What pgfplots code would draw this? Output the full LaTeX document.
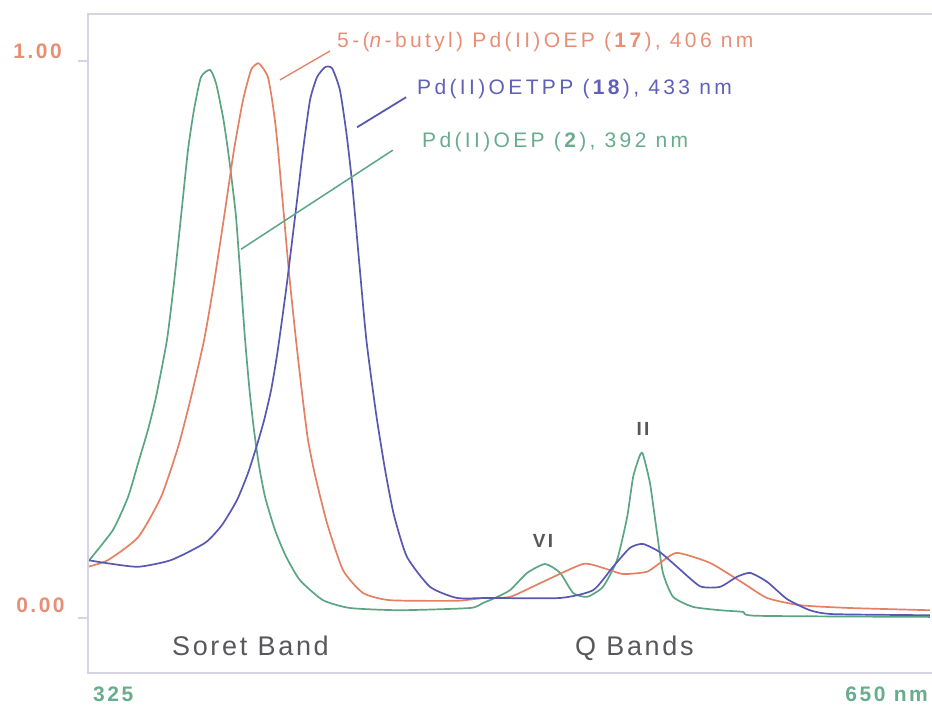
\documentclass[border=0pt]{standalone}
\usepackage{fontspec}
\usepackage{pgfplots}
\pgfplotsset{compat=1.18}
\setmainfont{Liberation Sans}
\newfontfamily\lab[LetterSpace=16]{Liberation Sans}
\newfontfamily\band[LetterSpace=10]{Liberation Sans}
\newfontfamily\num[LetterSpace=12]{Liberation Sans}

\definecolor{cred}{RGB}{228,128,100}
\definecolor{cblue}{RGB}{88,88,178}
\definecolor{cgreen}{RGB}{92,165,132}
\definecolor{tred}{RGB}{232,142,118}
\definecolor{tblue}{RGB}{96,96,184}
\definecolor{tgreen}{RGB}{104,172,142}
\definecolor{tgray}{RGB}{88,88,92}
\definecolor{frame}{RGB}{212,212,226}

\begin{document}
\begin{tikzpicture}
\begin{axis}[
    name=ax,
    at={(0,0)}, anchor=south west,
    scale only axis,
    width=844pt, height=659pt,
    xmin=325, xmax=650,
    ymin=-0.0987, ymax=1.0844,
    axis lines=none,
    clip=false,
    every axis plot/.append style={line width=1.7pt, line join=round}
]
% Pd(II)OEP (2)
\addplot[cgreen, smooth, tension=0.35] coordinates {
(325.0,0.101) (334.6,0.158) (340.4,0.217) (344.3,0.278) (348.1,0.338) (351.2,0.397)
(355.4,0.499) (358.1,0.601) (360.8,0.720) (363.5,0.840) (365.8,0.912) (368.5,0.971)
(372.0,0.984) (374.3,0.960) (377.0,0.899) (378.9,0.840) (380.5,0.781) (382.0,0.720)
(383.9,0.601) (385.5,0.499) (387.2,0.409) (388.9,0.338) (390.8,0.275) (393.2,0.217)
(397.0,0.158) (401.2,0.111) (406.6,0.068) (415.5,0.032) (425.9,0.018) (445.1,0.014)
(472.1,0.018) (477.1,0.027) (481.7,0.036) (487.5,0.050) (494.1,0.081) (501.0,0.097)
(506.8,0.081) (511.8,0.045) (517.2,0.038) (523.3,0.056) (528.7,0.104) (532.6,0.181)
(534.9,0.253) (537.6,0.293) (538.7,0.294) (541.4,0.242) (544.1,0.153) (546.4,0.081)
(550.3,0.038) (558.0,0.020) (568.4,0.014) (577.2,0.011) (582.6,0.004) (649.2,0.002)};
% 5-(n-butyl) Pd(II)OEP (17)
\addplot[cred, smooth, tension=0.35] coordinates {
(325.0,0.092) (332.7,0.104) (344.3,0.145) (353.1,0.217) (359.7,0.307) (364.7,0.397)
(369.7,0.499) (373.5,0.601) (377.4,0.720) (381.2,0.840) (384.7,0.930) (387.8,0.984)
(390.5,0.996) (392.4,0.987) (394.3,0.971) (395.9,0.930) (397.2,0.885) (398.2,0.840)
(399.3,0.781) (400.5,0.720) (401.6,0.661) (402.8,0.601) (405.1,0.499) (407.6,0.397)
(409.7,0.320) (412.4,0.257) (417.0,0.171) (423.2,0.086) (430.9,0.045) (441.3,0.032)
(467.1,0.031) (477.1,0.036) (487.5,0.038) (500.2,0.065) (515.6,0.097) (523.3,0.090)
(531.0,0.079) (540.2,0.083) (545.3,0.099) (551.8,0.117) (564.5,0.099) (577.2,0.063)
(586.5,0.036) (599.2,0.023) (618.4,0.018) (649.2,0.014)};
% Pd(II)OETPP (18)
\addplot[cblue, smooth, tension=0.35] coordinates {
(325.0,0.104) (331.5,0.099) (344.3,0.092) (357.0,0.104) (370.1,0.135) (376.6,0.167)
(382.4,0.212) (386.6,0.260) (390.1,0.311) (392.8,0.355) (395.5,0.409) (397.8,0.472)
(399.7,0.535) (401.6,0.601) (405.5,0.750) (407.8,0.840) (410.5,0.930) (413.2,0.971)
(416.3,0.989) (419.0,0.987) (422.0,0.948) (424.5,0.871) (426.7,0.781) (429.6,0.630)
(432.2,0.499) (435.9,0.368) (439.4,0.266) (442.8,0.185) (447.8,0.110) (456.7,0.056)
(467.1,0.036) (479.8,0.036) (506.8,0.036) (519.5,0.050) (527.2,0.092) (533.7,0.126)
(538.7,0.133) (545.3,0.118) (551.8,0.092) (560.7,0.057) (568.4,0.056) (574.9,0.074)
(580.0,0.081) (586.5,0.065) (594.2,0.034) (603.0,0.014) (611.9,0.007) (649.2,0.005)};

% frame and ticks
\draw[frame, line width=1.3pt] (rel axis cs:1,1) -- (rel axis cs:0,1) -- (rel axis cs:0,0) -- (rel axis cs:1,0);
\draw[frame, line width=1.3pt] (axis cs:321.15,1) -- (axis cs:325,1);
\draw[frame, line width=1.3pt] (axis cs:321.15,0) -- (axis cs:325,0);

% tick labels
\node[anchor=base east, inner sep=0pt, text=tred, font=\num\bfseries\fontsize{21}{25}\selectfont] at (axis cs:315.0,1.004) {1.00};
\node[anchor=base east, inner sep=0pt, text=tred, font=\num\bfseries\fontsize{21}{25}\selectfont] at (axis cs:316.1,0.0108) {0.00};
\node[anchor=base west, inner sep=0pt, text=tgreen, font=\num\bfseries\fontsize{21}{25}\selectfont] at (axis cs:326.9,-0.149) {325};
\node[anchor=base east, inner sep=0pt, text=tgreen, font=\num\bfseries\fontsize{21}{25}\selectfont] at (axis cs:648.5,-0.149) {650 nm};

% band labels
\node[anchor=base west, inner sep=0pt, text=tgray, font=\band\fontsize{27}{32}\selectfont] at (axis cs:357.3,-0.0664) {Soret Band};
\node[anchor=base west, inner sep=0pt, text=tgray, font=\band\fontsize{27}{32}\selectfont] at (axis cs:512.5,-0.0664) {Q Bands};
\node[anchor=base, inner sep=0pt, text=tgray, font=\num\bfseries\fontsize{19}{23}\selectfont] at (axis cs:538.7,0.3285) {II};
\node[anchor=base, inner sep=0pt, text=tgray, font=\num\bfseries\fontsize{19}{23}\selectfont] at (axis cs:500.2,0.1275) {VI};

% series labels and leaders
\draw[cred, line width=1.3pt] (axis cs:398.9,0.966) -- (axis cs:418.2,1.018);
\draw[cblue, line width=1.8pt] (axis cs:428.6,0.881) -- (axis cs:447.5,0.935);
\draw[cgreen, line width=1.5pt] (axis cs:383.9,0.662) -- (axis cs:442.4,0.840);
\node[anchor=base west, inner sep=0pt, text=tred, font=\lab\fontsize{21}{25}\selectfont] at (axis cs:420.9,1.025) {5-(\textit{n}-butyl) Pd(II)OEP (\textbf{17}), 406 nm};
\node[anchor=base west, inner sep=0pt, text=tblue, font=\lab\fontsize{21}{25}\selectfont] at (axis cs:451.7,0.939) {Pd(II)OETPP (\textbf{18}), 433 nm};
\node[anchor=base west, inner sep=0pt, text=tgreen, font=\lab\fontsize{21}{25}\selectfont] at (axis cs:453.6,0.844) {Pd(II)OEP (\textbf{2}), 392 nm};
\end{axis}
\pgfresetboundingbox
\path[use as bounding box] (-88pt,-34pt) rectangle (844pt,673pt);
\end{tikzpicture}
\end{document}
